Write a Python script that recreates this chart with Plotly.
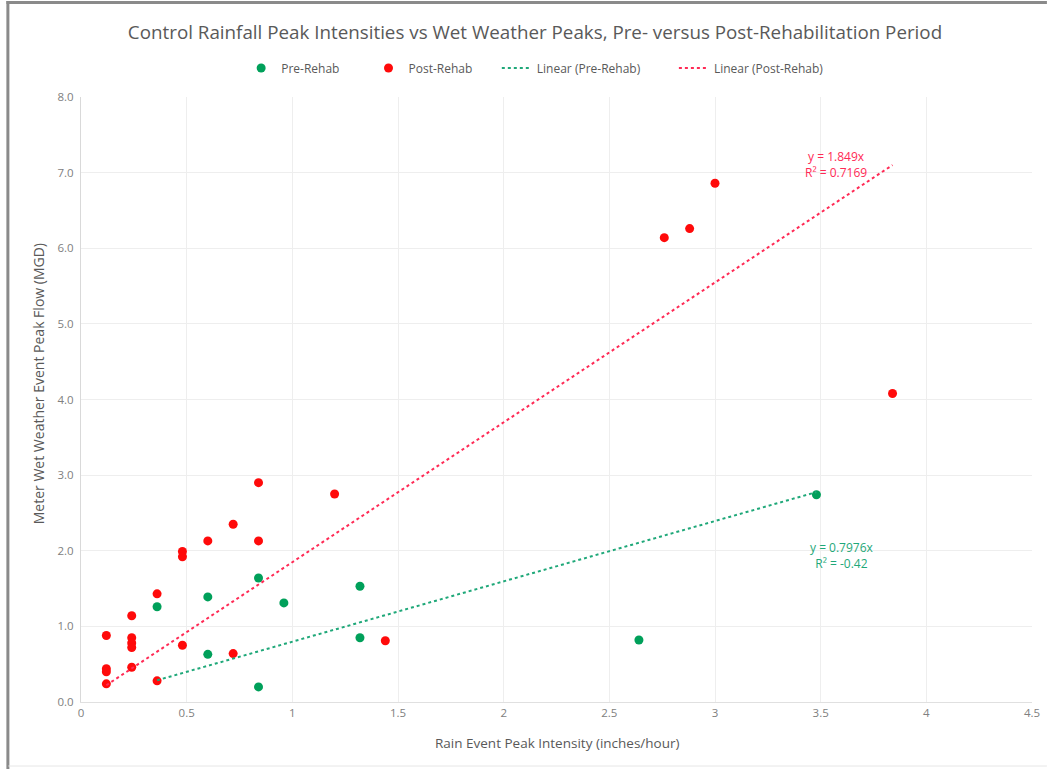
import plotly.graph_objects as go

# Rain event peak intensity (in/hr) and meter peak flow (MGD)
pre_x = [0.36, 0.60, 0.60, 0.84, 0.84, 0.96, 1.32, 1.32, 2.64, 3.48]
pre_y = [1.26, 1.39, 0.63, 1.64, 0.20, 1.31, 1.53, 0.85, 0.82, 2.74]

post_x = [0.12, 0.12, 0.12, 0.12, 0.24, 0.24, 0.24, 0.24, 0.24, 0.36, 0.36,
          0.48, 0.48, 0.48, 0.60, 0.72, 0.72, 0.84, 0.84, 1.20, 1.44,
          2.76, 2.88, 3.00, 3.84]
post_y = [0.88, 0.44, 0.40, 0.24, 1.14, 0.85, 0.78, 0.72, 0.46, 1.43, 0.28,
          1.99, 1.92, 0.75, 2.13, 2.35, 0.64, 2.90, 2.13, 2.75, 0.81,
          6.14, 6.26, 6.86, 4.08]

# Linear trend fits through the origin
pre_slope, pre_r2 = 0.7976, "-0.42"
post_slope, post_r2 = 1.849, "0.7169"

x_ticks = [0, 0.5, 1, 1.5, 2, 2.5, 3, 3.5, 4, 4.5]
x_tick_labels = ["0", "0.5", "1", "1.5", "2", "2.5", "3", "3.5", "4", "4.5"]
y_ticks = [0, 1, 2, 3, 4, 5, 6, 7, 8]
y_tick_labels = ["0.0", "1.0", "2.0", "3.0", "4.0", "5.0", "6.0", "7.0", "8.0"]

GREEN = "#00A05A"
RED = "#FF0A0A"
GREEN_LINE = "#1FA879"
RED_LINE = "#FF2A55"
FONT = "Open Sans"
GREY_TEXT = "#595959"

W, H = 1052, 769
L, R, T, B = 81, 15, 97, 67
plot_w, plot_h = W - L - R, H - T - B


def px_x(p):
    return (p - L) / plot_w


def px_y(p):
    return (H - B - p) / plot_h


pre_fit_x = [min(pre_x), max(pre_x)]
post_fit_x = [min(post_x), max(post_x)]

fig = go.Figure()
fig.add_trace(go.Scatter(
    x=pre_x, y=pre_y, mode="markers", name="Pre-Rehab", showlegend=True,
    marker=dict(color=GREEN, size=9), legend="legend"))
fig.add_trace(go.Scatter(
    x=post_x, y=post_y, mode="markers", name="Post-Rehab", showlegend=True,
    marker=dict(color=RED, size=9), legend="legend2"))
fig.add_trace(go.Scatter(
    x=pre_fit_x, y=[pre_slope * v for v in pre_fit_x], mode="lines",
    name="Linear (Pre-Rehab)", showlegend=True,
    line=dict(color=GREEN_LINE, width=2, dash="dot"), legend="legend3"))
fig.add_trace(go.Scatter(
    x=post_fit_x, y=[post_slope * v for v in post_fit_x], mode="lines",
    name="Linear (Post-Rehab)", showlegend=True,
    line=dict(color=RED_LINE, width=2, dash="dot"), legend="legend4"))

legend_y = px_y(68)
legend_common = dict(orientation="h", yanchor="middle", y=legend_y, xanchor="left",
                     font=dict(family=FONT, size=12, color=GREY_TEXT),
                     bgcolor="rgba(0,0,0,0)", itemwidth=30)

# trend equations
fig.add_annotation(x=px_x(840), y=px_y(164.5), xref="paper", yref="paper",
                   text=f"y = {post_slope}x<br>R² = {post_r2}", showarrow=False,
                   font=dict(family=FONT, size=12, color=RED_LINE), align="center",
                   xanchor="center", yanchor="middle")
fig.add_annotation(x=px_x(846), y=px_y(555), xref="paper", yref="paper",
                   text=f"y = {pre_slope}x<br>R² = {pre_r2}", showarrow=False,
                   font=dict(family=FONT, size=12, color=GREEN_LINE), align="center",
                   xanchor="center", yanchor="middle")

# axis titles
fig.add_annotation(x=px_x(38), y=px_y(384), xref="paper", yref="paper",
                   text="Meter Wet Weather Event Peak Flow (MGD)", textangle=-90,
                   xanchor="center", yanchor="middle",
                   showarrow=False, font=dict(family=FONT, size=14, color=GREY_TEXT))
fig.add_annotation(x=px_x(559), y=px_y(743), xref="paper", yref="paper",
                   text="Rain Event Peak Intensity (inches/hour)",
                   xanchor="center", yanchor="middle",
                   showarrow=False, font=dict(family=FONT, size=13.5, color=GREY_TEXT))

# outer frame
frame = dict(xref="paper", yref="paper", layer="above")
fig.add_shape(type="line", x0=px_x(6), x1=px_x(1052), y0=px_y(2.5), y1=px_y(2.5),
              line=dict(color="#8a8a8a", width=3), **frame)
fig.add_shape(type="line", x0=px_x(7.5), x1=px_x(7.5), y0=px_y(1), y1=px_y(769),
              line=dict(color="#8a8a8a", width=3), **frame)
fig.add_shape(type="line", x0=px_x(8), x1=px_x(1052), y0=px_y(766), y1=px_y(766),
              line=dict(color="#e6e6e6", width=1), **frame)

fig.update_layout(
    width=W, height=H,
    margin=dict(l=L, r=R, t=T, b=B),
    paper_bgcolor="white", plot_bgcolor="white",
    showlegend=True,
    title=dict(text="Control Rainfall Peak Intensities vs Wet Weather Peaks, Pre- versus Post-Rehabilitation Period",
               xref="container", x=535 / W, xanchor="center",
               yref="container", y=1 - 32 / H, yanchor="middle",
               font=dict(family=FONT, size=18.8, color=GREY_TEXT)),
    legend=dict(x=px_x(242), **legend_common),
    legend2=dict(x=px_x(370), **legend_common),
    legend3=dict(x=px_x(499), **legend_common),
    legend4=dict(x=px_x(677), **legend_common),
    xaxis=dict(range=[0, 4.5], tickvals=x_ticks, ticktext=x_tick_labels,
               showgrid=True, gridcolor="#eeeeee", gridwidth=1,
               showline=True, linecolor="#e0e0e0", linewidth=1, zeroline=False,
               ticks="", tickfont=dict(family=FONT, size=11.5, color="#808080"),
               fixedrange=True),
    yaxis=dict(range=[0, 8], tickvals=y_ticks, ticktext=y_tick_labels,
               showgrid=True, gridcolor="#eeeeee", gridwidth=1,
               showline=True, linecolor="#d9d9d9", linewidth=1, zeroline=False,
               ticks="", tickfont=dict(family=FONT, size=11.5, color="#808080"),
               ticklabelstandoff=4, fixedrange=True),
)

fig.write_html("out.html")
